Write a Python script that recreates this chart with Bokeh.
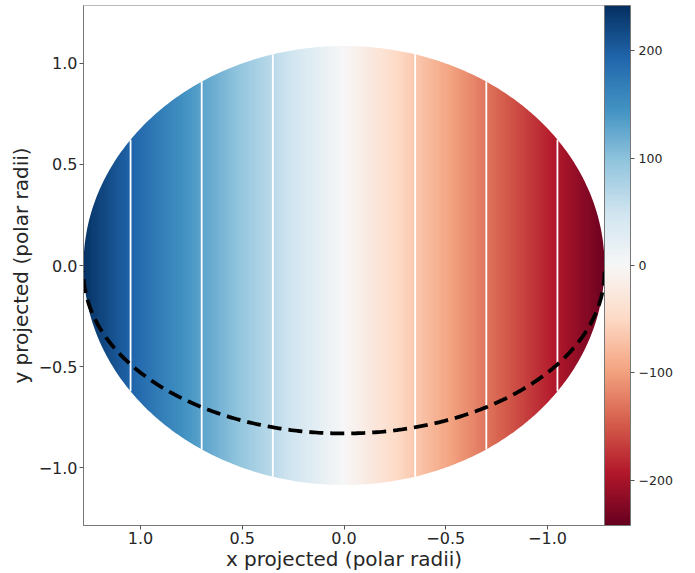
import numpy as np
from bokeh.plotting import figure
from bokeh.models import (LinearColorMapper, ColorBar, FixedTicker, Range1d,
                          CustomJSTickFormatter)
from bokeh.embed import file_html
from bokeh.resources import INLINE

# ---------------- data ----------------
disk_a = 1.28          # projected semi-axis of the disk along x (polar radii)
disk_b = 1.085         # projected semi-axis of the disk along y
v_limb = 238.0         # line-of-sight velocity at the limb (x = +a)
c_low, c_high = -242.0, 242.0          # colour-bar limits
contour_levels = [-195, -130, -65, 65, 130, 195]
cbar_ticks = [-200, -100, 0, 100, 200]
x_ticks = [1.0, 0.5, 0.0, -0.5, -1.0]
y_ticks = [-1.0, -0.5, 0.0, 0.5, 1.0]
eq_center = -0.03      # dashed equator ellipse: centre y, semi-axes
eq_a = 1.28
eq_b = 0.80
x_lim = 1.28
y_lim = 1.285

rdbu_anchors = ["#67001f", "#b2182b", "#d6604d", "#f4a582", "#fddbc7", "#f7f7f7",
                "#d1e5f0", "#92c5de", "#4393c3", "#2166ac", "#053061"]

# ---------------- palette ----------------
def hex2rgb(h):
    return [int(h[i:i + 2], 16) for i in (1, 3, 5)]

anch = np.array([hex2rgb(h) for h in rdbu_anchors], dtype=float)
pos = np.linspace(0, 1, len(anch))
tt = np.linspace(0, 1, 256)
pal = []
for t in tt:
    r = np.interp(t, pos, anch[:, 0]); g = np.interp(t, pos, anch[:, 1]); b = np.interp(t, pos, anch[:, 2])
    pal.append("#%02x%02x%02x" % (int(round(r)), int(round(g)), int(round(b))))

mapper = LinearColorMapper(palette=pal, low=c_low, high=c_high, nan_color="rgba(0,0,0,0)")

# ---------------- velocity field (masked to the disk below) ----------------
nx, ny = 700, 40
gx = np.linspace(-disk_a, disk_a, nx)
gy = np.linspace(-disk_b, disk_b, ny)
X, Y = np.meshgrid(gx, gy)
field = (v_limb * X / disk_a).astype(np.float32)

# ---------------- figure ----------------
p = figure(frame_width=521, height=573, output_backend="svg", toolbar_location=None,
           x_range=Range1d(x_lim, -x_lim), y_range=Range1d(-y_lim, y_lim),
           min_border_left=83, min_border_top=5, min_border_bottom=0, min_border_right=0,
           background_fill_color="white", border_fill_color="white")
p.grid.visible = False
p.outline_line_color = "#777777"
p.outline_line_width = 1

p.image(image=[field], x=-disk_a, y=-disk_b, dw=2 * disk_a, dh=2 * disk_b, color_mapper=mapper)

# white mask outside the disk for a smooth limb
th = np.linspace(0, 2 * np.pi, 600)
hole_x = list(disk_a * np.cos(th)); hole_y = list(disk_b * np.sin(th))
outer_x = [-x_lim - 0.1, x_lim + 0.1, x_lim + 0.1, -x_lim - 0.1]
outer_y = [-y_lim - 0.1, -y_lim - 0.1, y_lim + 0.1, y_lim + 0.1]
p.multi_polygons(xs=[[[outer_x, hole_x]]], ys=[[[outer_y, hole_y]]],
                 fill_color="white", line_color=None)

# contour lines (iso-velocity) in white
cx = [lv / v_limb * disk_a for lv in contour_levels]
cy = [disk_b * np.sqrt(max(0.0, 1 - (c / disk_a) ** 2)) for c in cx]
p.segment(x0=cx, y0=[-c for c in cy], x1=cx, y1=cy, line_color="white", line_width=1.8)

# dashed equator
te = np.linspace(np.pi, 2 * np.pi, 300)
p.line(x=eq_a * np.cos(te), y=eq_center + eq_b * np.sin(te), line_color="black",
       line_width=3.8, line_dash="14 7")

# ---------------- axes ----------------
fmt1 = CustomJSTickFormatter(code="return (tick < 0 ? '\\u2212' : '') + Math.abs(tick).toFixed(1);")
for ax, ticks, lab in ((p.xaxis, x_ticks, "x projected (polar radii)"),
                       (p.yaxis, y_ticks, "y projected (polar radii)")):
    ax.ticker = FixedTicker(ticks=ticks)
    ax.formatter = fmt1
    ax.axis_label = lab
    ax.axis_label_text_font = "DejaVu Sans"
    ax.axis_label_text_font_size = "20px"
    ax.axis_label_text_font_style = "normal"
    ax.axis_label_text_color = "#262626"
    ax.major_label_text_font = "DejaVu Sans"
    ax.major_label_text_font_size = "16px"
    ax.major_label_text_color = "#262626"
    ax.major_tick_out = 4
    ax.major_tick_in = 0
    ax.major_tick_line_color = "#555555"
    ax.minor_tick_line_color = None
    ax.axis_line_color = "#777777"
    ax.major_label_standoff = 2
    ax.axis_label_standoff = 0

p.yaxis.axis_label_standoff = 3

fmt0 = CustomJSTickFormatter(code="return (tick < 0 ? '\\u2212' : '') + Math.abs(tick).toFixed(0);")
cb = ColorBar(color_mapper=mapper, ticker=FixedTicker(ticks=cbar_ticks), formatter=fmt0,
              width=26, padding=0, margin=1, label_standoff=4,
              major_tick_out=4, major_tick_in=0, major_tick_line_color="#555555",
              minor_tick_line_color=None, bar_line_color="#777777", border_line_color=None,
              major_label_text_font="DejaVu Sans", major_label_text_font_size="12.5px",
              major_label_text_color="#262626")
p.add_layout(cb, "right")

open("out.html", "w").write(file_html(p, INLINE))
